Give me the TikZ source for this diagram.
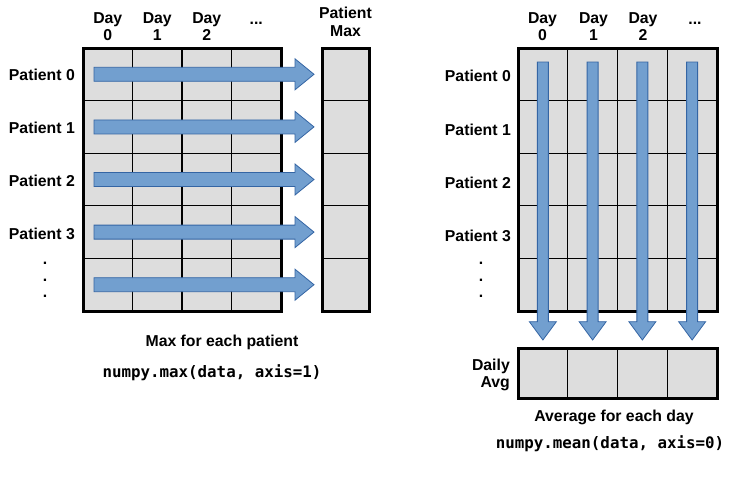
\documentclass[tikz,border=0pt]{standalone}
\usepackage{fontspec}
\setmainfont{Liberation Sans}
\newfontfamily\codefont{DejaVu Sans Mono}
\definecolor{cellgray}{HTML}{DDDDDD}
\definecolor{arrowfill}{HTML}{729FCF}
\definecolor{arrowline}{HTML}{3465A4}
\begin{document}
\begin{tikzpicture}[x=1pt,y=-1pt,
  lbl/.style={font=\fontsize{15.8}{17.5}\selectfont\bfseries, inner sep=0pt, align=center},
  code/.style={font=\codefont\bfseries\fontsize{15.8}{18}\selectfont, inner sep=0pt},
  innerline/.style={line width=1.2pt},
  outerline/.style={line width=3pt},
  blockarrow/.style={fill=arrowfill, draw=arrowline, line width=0.8pt, line join=miter}]
\useasboundingbox[fill=white] (0,0) rectangle (751,477);

% ---------- left: max per patient ----------
\fill[cellgray] (83,48) rectangle (281,311);
\foreach \i in {1,2,3} \draw[innerline] ({83+49.5*\i},48) -- ({83+49.5*\i},311);
\foreach \j in {1,...,4} \draw[innerline] (83,{48+52.6*\j}) -- (281,{48+52.6*\j});
\draw[outerline] (83,48) rectangle (281,311);

\fill[cellgray] (322,48) rectangle (369,311);
\foreach \j in {1,...,4} \draw[innerline] (322,{48+52.6*\j}) -- (369,{48+52.6*\j});
\draw[outerline] (322,48) rectangle (369,311);

\foreach \j in {0,...,4} {
  \pgfmathsetmacro\yc{74.3+52.6*\j}
  \filldraw[blockarrow] (94,\yc-7) -- (295,\yc-7) -- (295,\yc-15.5) -- (314,\yc)
     -- (295,\yc+15.5) -- (295,\yc+7) -- (94,\yc+7) -- cycle;
}

\node[lbl] (ld0) at (107.75,26.5) {Day\\0};
\node[lbl] (ld1) at (157.25,26.5) {Day\\1};
\node[lbl] (ld2) at (206.75,26.5) {Day\\2};
\node[lbl] (ldn) at (256.25,23) {...};
\node[lbl] (lmax) at (345.5,22) {Patient\\Max};

\node[lbl, anchor=east] (lp0) at (75,75) {Patient 0};
\node[lbl, anchor=east] (lp1) at (75,128) {Patient 1};
\node[lbl, anchor=east] (lp2) at (75,181) {Patient 2};
\node[lbl, anchor=east] (lp3) at (75,234) {Patient 3};
\node[lbl] (ldots) at (45,280) {.\\[-1pt].\\[-1pt].};

\node[lbl] (ltitle) at (222,342) {Max for each patient};
\node[code] (lcode) at (212,373) {numpy.max(data, axis=1)};

% ---------- right: mean per day ----------
\fill[cellgray] (518,48) rectangle (717,311);
\foreach \i in {1,2,3} \draw[innerline] ({518+49.75*\i},48) -- ({518+49.75*\i},311);
\foreach \j in {1,...,4} \draw[innerline] (518,{48+52.6*\j}) -- (717,{48+52.6*\j});
\draw[outerline] (518,48) rectangle (717,311);

\fill[cellgray] (518,348) rectangle (717,398);
\foreach \i in {1,2,3} \draw[innerline] ({518+49.75*\i},348) -- ({518+49.75*\i},398);
\draw[outerline] (518,348) rectangle (717,398);

\foreach \i in {0,...,3} {
  \pgfmathsetmacro\xc{518+49.75*(\i+0.5)}
  \filldraw[blockarrow] (\xc-5.5,62) -- (\xc+5.5,62) -- (\xc+5.5,321.7) -- (\xc+13.5,321.7)
     -- (\xc,340) -- (\xc-13.5,321.7) -- (\xc-5.5,321.7) -- cycle;
}

\node[lbl] (rd0) at (542.5,26.5) {Day\\0};
\node[lbl] (rd1) at (593.5,26.5) {Day\\1};
\node[lbl] (rd2) at (643,26.5) {Day\\2};
\node[lbl] (rdn) at (695,23) {...};

\node[lbl, anchor=east] (rp0) at (511,76) {Patient 0};
\node[lbl, anchor=east] (rp1) at (511,130) {Patient 1};
\node[lbl, anchor=east] (rp2) at (511,183) {Patient 2};
\node[lbl, anchor=east] (rp3) at (511,236) {Patient 3};
\node[lbl] (rdots) at (481,280) {.\\[-1pt].\\[-1pt].};

\node[lbl, align=right, anchor=east] (ravg) at (510,375) {Daily\\Avg};
\node[lbl] (rtitle) at (614,417) {Average for each day};
\node[code] (rcode) at (610,444) {numpy.mean(data, axis=0)};
\end{tikzpicture}
\end{document}
